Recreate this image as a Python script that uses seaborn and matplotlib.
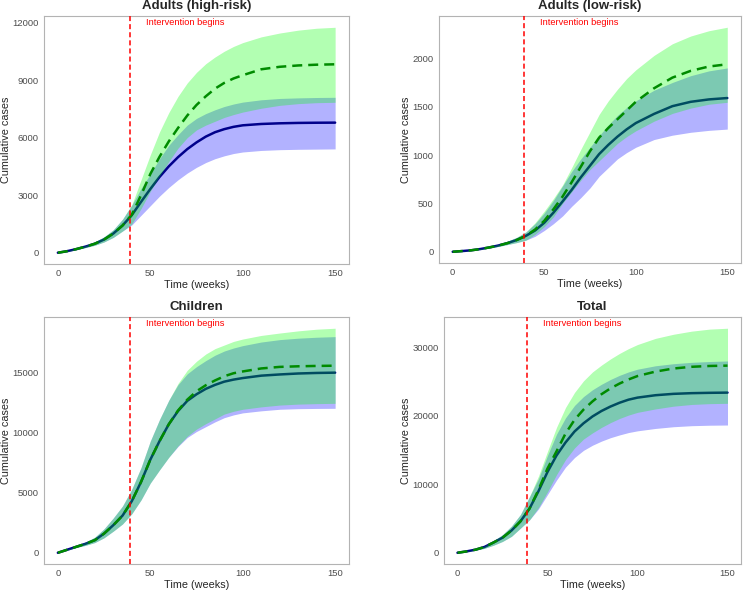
'''
Cumulative cases, two scenarios with uncertainty bands, one panel per group.
'''
import matplotlib
matplotlib.use('Agg')
import matplotlib.pyplot as plt
import matplotlib.transforms as mtransforms
from matplotlib.ticker import MultipleLocator
import seaborn as sns

WEEKS = [0, 5, 10, 15, 20, 25, 30, 35, 40, 45, 50, 55, 60, 65, 70, 75, 80, 85, 90, 95, 100, 110, 120, 130, 140, 150]
INTERVENTION_WEEK = 38.8

# Adults (high-risk)
hr_blue_lo = [0, 65, 160, 270, 390, 560, 800, 1130, 1450, 1950, 2450, 2950, 3400, 3800, 4150, 4450, 4700, 4900, 5050, 5170, 5250, 5330, 5370, 5390, 5400, 5410]
hr_blue_mean = [0, 80, 190, 320, 470, 690, 1000, 1420, 1960, 2650, 3320, 3950, 4500, 4980, 5400, 5750, 6050, 6280, 6440, 6560, 6640, 6710, 6745, 6765, 6775, 6780]
hr_blue_hi = [0, 95, 220, 380, 570, 830, 1200, 1750, 2480, 3350, 4100, 4900, 5600, 6150, 6650, 7000, 7250, 7450, 7620, 7750, 7850, 7970, 8040, 8070, 8090, 8100]
hr_green_lo = [0, 65, 160, 270, 390, 560, 800, 1130, 1500, 2300, 3200, 4000, 4750, 5450, 6000, 6400, 6650, 6850, 7050, 7200, 7330, 7530, 7680, 7770, 7820, 7840]
hr_green_mean = [0, 80, 190, 320, 470, 690, 1000, 1420, 1980, 3000, 4100, 5000, 5800, 6500, 7150, 7700, 8150, 8550, 8850, 9080, 9250, 9560, 9690, 9760, 9800, 9820]
hr_green_hi = [0, 95, 220, 380, 570, 830, 1200, 1750, 2500, 3800, 5100, 6300, 7300, 8150, 8850, 9400, 9850, 10200, 10500, 10750, 10950, 11250, 11450, 11600, 11700, 11750]

# Adults (low-risk)
lr_blue_lo = [0, 6, 12, 24, 38, 55, 75, 95, 120, 160, 220, 290, 370, 470, 560, 660, 780, 870, 960, 1025, 1080, 1160, 1205, 1235, 1255, 1268]
lr_blue_mean = [0, 7, 15, 28, 45, 65, 90, 122, 165, 220, 300, 404, 520, 640, 770, 890, 1010, 1105, 1190, 1265, 1330, 1425, 1505, 1550, 1575, 1589]
lr_blue_hi = [0, 8, 18, 33, 52, 78, 110, 150, 205, 290, 400, 530, 680, 830, 960, 1080, 1200, 1310, 1410, 1490, 1560, 1670, 1750, 1820, 1870, 1900]
lr_green_lo = [0, 6, 12, 24, 38, 55, 75, 95, 120, 180, 260, 360, 500, 620, 740, 850, 940, 1030, 1120, 1190, 1250, 1350, 1430, 1485, 1525, 1545]
lr_green_mean = [0, 7, 15, 28, 45, 65, 90, 122, 165, 230, 320, 439, 570, 720, 880, 1040, 1180, 1280, 1370, 1460, 1550, 1690, 1800, 1870, 1915, 1938]
lr_green_hi = [0, 8, 18, 33, 52, 78, 110, 150, 205, 300, 420, 550, 690, 870, 1060, 1240, 1420, 1560, 1680, 1790, 1880, 2030, 2150, 2230, 2285, 2321]

# Children
ch_blue_lo = [0, 220, 440, 620, 850, 1250, 1800, 2400, 3250, 4400, 5800, 6900, 7950, 8850, 9600, 10100, 10500, 10900, 11250, 11480, 11650, 11820, 11950, 12000, 12020, 12030]
ch_blue_mean = [0, 250, 500, 750, 1050, 1600, 2300, 3100, 4300, 5900, 7750, 9300, 10700, 11800, 12650, 13200, 13650, 13980, 14250, 14420, 14550, 14750, 14850, 14930, 14975, 15000]
ch_blue_hi = [0, 280, 560, 900, 1300, 2000, 2900, 3900, 5300, 7100, 9300, 11100, 12700, 14000, 14900, 15500, 16000, 16450, 16800, 17050, 17250, 17550, 17750, 17870, 17950, 18000]
ch_green_lo = [0, 220, 440, 620, 850, 1250, 1800, 2400, 3250, 4400, 5800, 6900, 7950, 8900, 9700, 10300, 10750, 11150, 11550, 11780, 11950, 12150, 12300, 12380, 12420, 12445]
ch_green_mean = [0, 250, 500, 750, 1050, 1600, 2300, 3100, 4300, 5900, 7750, 9300, 10700, 11850, 12750, 13450, 13950, 14350, 14700, 14950, 15100, 15350, 15480, 15530, 15560, 15580]
ch_green_hi = [0, 280, 560, 900, 1300, 2000, 2900, 3900, 5300, 7100, 9300, 11100, 12700, 14100, 15200, 15950, 16550, 17000, 17300, 17600, 17800, 18100, 18300, 18480, 18620, 18700]

# Total
to_blue_lo = [0, 170, 380, 650, 1100, 1650, 2400, 3600, 4800, 6400, 8500, 10600, 12500, 13900, 14950, 15700, 16300, 16800, 17200, 17550, 17800, 18150, 18400, 18550, 18620, 18650]
to_blue_mean = [0, 200, 450, 850, 1500, 2200, 3250, 4600, 6450, 9000, 11800, 14200, 16100, 17700, 18900, 19900, 20700, 21350, 21900, 22350, 22650, 23000, 23200, 23300, 23350, 23380]
to_blue_hi = [0, 230, 520, 1000, 1750, 2650, 3900, 5600, 8200, 10800, 14200, 17300, 19700, 21500, 22800, 23800, 24600, 25300, 25900, 26400, 26800, 27300, 27600, 27800, 27920, 28000]
to_green_lo = [0, 170, 380, 650, 1100, 1650, 2400, 3600, 4800, 6600, 8900, 11400, 13600, 15300, 16600, 17500, 18300, 19000, 19600, 20100, 20500, 21000, 21400, 21650, 21770, 21820]
to_green_mean = [0, 200, 450, 850, 1500, 2200, 3250, 4600, 6450, 9200, 12300, 14800, 17400, 19400, 20900, 22100, 23150, 24000, 24700, 25300, 25800, 26450, 26900, 27150, 27270, 27320]
to_green_hi = [0, 230, 520, 1000, 1750, 2650, 3900, 5600, 8200, 11200, 14800, 18300, 21200, 23400, 25100, 26400, 27400, 28300, 29100, 29800, 30400, 31300, 31900, 32350, 32650, 32780]

TITLES = ['Adults (high-risk)', 'Adults (low-risk)', 'Children', 'Total']
YSTEPS = [3000, 500, 5000, 10000]

sns.set_style('white')
plt.rcParams['font.family'] = ['Liberation Sans', 'DejaVu Sans']

BORDER = '#B3B3B3'
TICKTXT = '#4D4D4D'


def draw_panel(ax, title, b_lo, b_mean, b_hi, g_lo, g_mean, g_hi, ystep):
    # blue scenario first, green ribbon laid over it (gives the teal overlap)
    ax.fill_between(WEEKS, b_lo, b_hi, color='#0000FF', alpha=0.3, lw=0, zorder=1)
    sns.lineplot(x=WEEKS, y=b_mean, ax=ax, color='#00008B', lw=1.8, zorder=2)
    ax.fill_between(WEEKS, g_lo, g_hi, color='#00FF00', alpha=0.3, lw=0, zorder=3)
    sns.lineplot(x=WEEKS, y=g_mean, ax=ax, color='#008B00', lw=1.8, linestyle='--', zorder=4)
    ax.lines[-1].set_dashes([4, 2.4])

    ax.axvline(INTERVENTION_WEEK, color='red', lw=1.1, linestyle='--', dashes=(3.3, 2), zorder=5)
    trans = mtransforms.blended_transform_factory(ax.transData, ax.transAxes)
    ax.text(47.5, 0.972, 'Intervention begins', transform=trans, color='red',
            fontsize=6.65, ha='left', va='center')

    ax.set_xlim(-7.5, 157.5)
    ax.xaxis.set_major_locator(MultipleLocator(50))
    ax.yaxis.set_major_locator(MultipleLocator(ystep))
    ax.margins(y=0.05)

    ax.set_title(title, fontsize=9.5, fontweight='bold', pad=5)
    ax.set_xlabel('Time (weeks)', fontsize=7.8, labelpad=1.5)
    ax.set_ylabel('Cumulative cases', fontsize=7.8, labelpad=1)

    for sp in ax.spines.values():
        sp.set_visible(True)
        sp.set_color(BORDER)
        sp.set_linewidth(0.8)
    ax.tick_params(axis='both', length=2.3, width=0.8, color=BORDER,
                   labelcolor=TICKTXT, labelsize=6.8, pad=1.5)
    ax.grid(False)


fig = plt.figure(figsize=(7.5, 5.9), dpi=100)
positions = [
    [44 / 750, 326 / 590, 305 / 750, 248 / 590],
    [439 / 750, 327 / 590, 302 / 750, 247 / 590],
    [44 / 750, 26 / 590, 305 / 750, 247 / 590],
    [444 / 750, 26 / 590, 297 / 750, 247 / 590],
]
panel_data = [
    (hr_blue_lo, hr_blue_mean, hr_blue_hi, hr_green_lo, hr_green_mean, hr_green_hi),
    (lr_blue_lo, lr_blue_mean, lr_blue_hi, lr_green_lo, lr_green_mean, lr_green_hi),
    (ch_blue_lo, ch_blue_mean, ch_blue_hi, ch_green_lo, ch_green_mean, ch_green_hi),
    (to_blue_lo, to_blue_mean, to_blue_hi, to_green_lo, to_green_mean, to_green_hi),
]

for pos, title, data, ystep in zip(positions, TITLES, panel_data, YSTEPS):
    ax = fig.add_axes(pos)
    draw_panel(ax, title, *data, ystep)

fig.savefig('out.png', dpi=100, facecolor='white')
